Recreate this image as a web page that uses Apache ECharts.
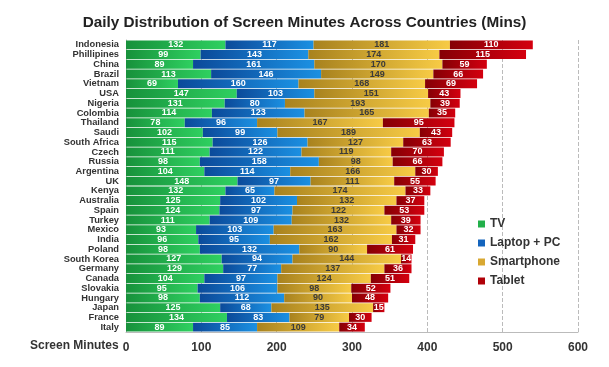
<!DOCTYPE html>
<html><head><meta charset="utf-8">
<script src="https://cdn.jsdelivr.net/npm/echarts@6/dist/echarts.min.js"></script>
<style>html,body{margin:0;padding:0;background:#fff}#c{width:609px;height:367px}</style>
</head><body><div id="c"></div>
<script>
const countries = ["Indonesia","Phillipines","China","Brazil","Vietnam","USA","Nigeria","Colombia","Thailand","Saudi","South Africa","Czech","Russia","Argentina","UK","Kenya","Australia","Spain","Turkey","Mexico","India","Poland","South Korea","Germany","Canada","Slovakia","Hungary","Japan","France","Italy"];
const tv =         [132,99,89,113,69,147,131,114,78,102,115,111,98,104,148,132,125,124,111,93,96,98,127,129,104,95,98,125,134,89];
const laptop =     [117,143,161,146,160,103,80,123,96,99,126,122,158,114,97,65,102,97,109,103,95,132,94,77,97,106,112,68,83,85];
const smartphone = [181,174,170,149,168,151,193,165,167,189,127,119,98,166,111,174,132,122,132,163,162,90,144,137,124,98,90,135,79,109];
const tablet =     [110,115,59,66,69,43,39,35,95,43,63,70,66,30,55,33,37,53,39,32,31,61,14,36,51,52,48,15,30,34];
const xTicks = [0,100,200,300,400,500,600];

function grad(a,b){return {type:'linear',x:0,y:0,x2:1,y2:0,colorStops:[{offset:0,color:a},{offset:1,color:b}]};}
const seriesDefs = [
  {name:'TV', data:tv, color:grad('#17913b','#2fd060'), legend:'#22b04a', label:'#fff'},
  {name:'Laptop + PC', data:laptop, color:grad('#0b4a9a','#1b90e2'), legend:'#1464bd', label:'#fff'},
  {name:'Smartphone', data:smartphone, color:grad('#a8821e','#f7cb45'), legend:'#d8a832', label:'#3a3a3a'},
  {name:'Tablet', data:tablet, color:grad('#850005','#d4000f'), legend:'#b00008', label:'#fff'}
];
const chart = echarts.init(document.getElementById('c'));
chart.setOption({
  animation:false,
  backgroundColor:'#fff',
  title:{text:'Daily Distribution of Screen Minutes Across Countries (Mins)',left:'center',top:10,
    textStyle:{fontFamily:'Liberation Sans',fontSize:15.3,fontWeight:'bold',color:'#222'}},
  grid:{left:126,right:31,top:40,bottom:35},
  legend:{orient:'vertical',left:473,top:213,itemGap:7,itemWidth:7,itemHeight:7,icon:'rect',
    textStyle:{fontFamily:'Liberation Sans',fontSize:12,fontWeight:'bold',color:'#333'},
    data:seriesDefs.map(s=>({name:s.name,itemStyle:{color:s.legend}}))},
  xAxis:{type:'value',min:0,max:600,interval:100,
    axisLine:{show:true,lineStyle:{color:'#bbb'}},axisTick:{show:false},
    axisLabel:{margin:10,fontFamily:'Liberation Sans',fontSize:12,fontWeight:'bold',color:'#333',
      formatter:v=>xTicks.includes(v)?String(v):''},
    splitLine:{show:true,lineStyle:{type:'dashed',color:'#bbb',width:1}}},
  yAxis:{type:'category',inverse:true,data:countries,
    axisLine:{show:true,lineStyle:{color:'#bbb'}},axisTick:{show:false},
    axisLabel:{margin:7,fontFamily:'Liberation Sans',fontSize:9.3,fontWeight:'bold',color:'#333',interval:0}},
  graphic:[{type:'text',left:30,top:340,style:{text:'Screen Minutes',fontFamily:'Liberation Sans',fontSize:12,fontWeight:'bold',fill:'#333'}}],
  series:seriesDefs.map(s=>({
    name:s.name,type:'bar',stack:'t',barCategoryGap:'8%',data:s.data,
    itemStyle:{color:s.color},
    label:{show:true,position:'inside',fontFamily:'Liberation Sans',fontSize:9,fontWeight:'bold',color:s.label}
  }))
});
</script></body></html>
